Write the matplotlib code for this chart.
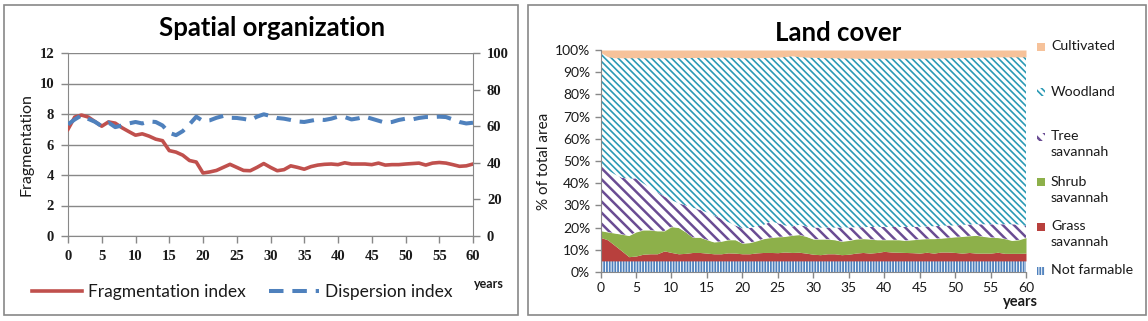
import matplotlib

matplotlib.use("Agg")

import matplotlib.pyplot as plt
import numpy as np
from matplotlib.font_manager import FontProperties
from matplotlib.lines import Line2D
from matplotlib.patches import Rectangle

plt.rcParams["font.family"] = ["Lato", "DejaVu Sans"]
plt.rcParams["hatch.linewidth"] = 1.3

years = np.arange(0, 61)

# Spatial organization indices
fragmentation = [
    7.0, 7.8, 7.93, 7.8, 7.5, 7.2, 7.48, 7.4, 7.1, 6.85,
    6.61, 6.7, 6.55, 6.35, 6.25, 5.6, 5.5, 5.3, 4.95, 4.85,
    4.13, 4.2, 4.3, 4.5, 4.7, 4.5, 4.3, 4.28, 4.5, 4.75,
    4.5, 4.28, 4.35, 4.6, 4.5, 4.38, 4.55, 4.65, 4.7, 4.72,
    4.68, 4.8, 4.72, 4.72, 4.72, 4.68, 4.78, 4.65, 4.68, 4.68,
    4.72, 4.75, 4.78, 4.65, 4.78, 4.82, 4.78, 4.68, 4.57, 4.6,
    4.72,
]
dispersion = [
    61.0, 63.7, 65.9, 64.0, 62.4, 60.0, 62.0, 59.5, 60.4, 61.5,
    62.3, 61.5, 62.6, 62.3, 60.4, 56.4, 55.1, 57.3, 61.0, 65.2,
    62.8, 63.2, 64.6, 65.6, 64.6, 64.5, 64.0, 63.3, 65.2, 66.5,
    65.6, 64.5, 64.1, 63.4, 62.6, 62.3, 63.0, 63.7, 63.4, 64.1,
    65.2, 65.0, 63.7, 64.3, 65.2, 64.1, 63.0, 61.9, 62.3, 63.4,
    64.1, 63.7, 64.5, 65.0, 65.0, 65.2, 65.0, 63.7, 62.3, 61.5,
    61.9,
]

# Land cover shares, % of total area
not_farmable = [5.0] * 61
grass = [
    10.6, 9.5, 7.0, 4.5, 1.9, 2.2, 3.0, 3.2, 3.2, 4.5,
    3.8, 3.2, 3.4, 3.8, 3.8, 3.5, 3.2, 3.2, 3.6, 3.5,
    3.2, 3.2, 3.6, 3.8, 3.8, 3.7, 4.0, 3.8, 3.9, 3.5,
    3.0, 2.8, 3.2, 3.2, 2.8, 3.0, 3.5, 3.8, 3.5, 3.8,
    4.3, 4.0, 3.9, 3.8, 3.7, 3.5, 3.9, 3.5, 4.0, 4.0,
    3.8, 3.5, 3.8, 3.5, 3.5, 3.5, 3.9, 3.4, 3.4, 3.4,
    3.5,
]
shrub = [
    3.0, 3.5, 5.5, 7.5, 9.5, 10.8, 10.9, 10.7, 10.3, 9.0,
    11.6, 11.8, 9.6, 6.8, 6.8, 6.0, 5.3, 5.6, 5.9, 6.0,
    4.7, 5.0, 5.4, 6.2, 6.7, 7.1, 7.0, 7.7, 7.9, 7.5,
    6.8, 7.0, 6.6, 6.3, 6.0, 6.2, 6.3, 6.2, 6.3, 5.7,
    5.2, 5.5, 5.6, 5.4, 5.8, 6.3, 6.1, 6.5, 6.2, 6.5,
    7.0, 7.5, 7.5, 8.0, 7.5, 7.1, 6.6, 6.6, 5.8, 6.1,
    7.0,
]
tree = [
    29.6, 28.0, 26.5, 25.5, 25.6, 24.2, 21.1, 19.1, 17.5, 15.5,
    12.0, 11.0, 12.0, 13.4, 12.4, 12.4, 12.0, 10.2, 8.0, 6.5,
    6.8, 6.6, 6.5, 6.2, 7.2, 6.2, 5.0, 4.0, 4.4, 4.5,
    5.2, 5.2, 5.2, 5.5, 6.2, 5.8, 5.4, 5.2, 5.5, 5.8,
    5.8, 5.8, 5.8, 6.1, 5.8, 5.6, 5.5, 5.6, 5.6, 5.4,
    5.2, 5.2, 5.1, 5.0, 5.5, 5.9, 6.0, 6.5, 7.3, 6.9,
    5.3,
]
woodland = [
    50.8, 51.0, 52.5, 54.0, 54.5, 54.3, 56.5, 58.5, 60.5, 62.5,
    64.1, 65.5, 66.6, 67.6, 68.7, 69.8, 71.2, 72.8, 74.3, 75.6,
    76.8, 76.7, 76.0, 75.4, 74.0, 74.8, 76.0, 76.9, 75.8, 76.3,
    76.7, 76.6, 76.5, 76.5, 76.4, 76.4, 76.1, 76.1, 76.0, 76.0,
    76.0, 76.0, 76.0, 76.0, 76.0, 75.9, 75.8, 75.8, 75.6, 75.6,
    75.5, 75.4, 75.3, 75.2, 75.3, 75.3, 75.4, 75.4, 75.4, 75.5,
    76.1,
]
cultivated = [
    1.0, 3.0, 3.5, 3.5, 3.5, 3.5, 3.5, 3.5, 3.5, 3.5,
    3.5, 3.5, 3.4, 3.4, 3.3, 3.3, 3.3, 3.2, 3.2, 3.4,
    3.5, 3.5, 3.5, 3.4, 3.3, 3.2, 3.0, 2.6, 3.0, 3.2,
    3.3, 3.4, 3.5, 3.5, 3.6, 3.6, 3.7, 3.7, 3.7, 3.7,
    3.7, 3.7, 3.7, 3.7, 3.7, 3.7, 3.7, 3.6, 3.6, 3.5,
    3.5, 3.4, 3.3, 3.3, 3.2, 3.2, 3.1, 3.1, 3.1, 3.1,
    3.1,
]

cover_labels = ["Not farmable", "Grass\nsavannah", "Shrub\nsavannah",
                "Tree\nsavannah", "Woodland", "Cultivated"]
cover_series = [not_farmable, grass, shrub, tree, woodland, cultivated]

RED = "#C0504D"
BLUE = "#4F81BD"
GREY = "#888888"
INK = "#1a1a1a"
# (face, edge/hatch colour, hatch, hatch line width)
cover_styles = [
    ("white", "#4F81BD", "||||||", 1.3),
    ("#B8403D", "#B8403D", None, 1.3),
    ("#8DB04A", "#8DB04A", None, 1.3),
    ("white", "#6A4C93", "\\\\\\", 1.8),
    ("white", "#2B9AB5", "\\\\\\\\\\", 1.2),
    ("#F6C29A", "#F6C29A", None, 1.3),
]

W, H = 1148, 321
fig = plt.figure(figsize=(W / 100, H / 100), dpi=100)


def px_box(x0, y0, x1, y1):
    """Figure-fraction rect from pixel corners (y measured from top)."""
    return [x0 / W, 1 - y1 / H, (x1 - x0) / W, (y1 - y0) / H]


# panel frames
for x0, x1 in [(3.5, 517.5), (527.5, 1145.5)]:
    fig.add_artist(Rectangle((x0 / W, 1 - 315 / H), (x1 - x0) / W, 310 / H,
                             transform=fig.transFigure, fill=False,
                             edgecolor=GREY, linewidth=1.2))

# ---- Spatial organization ----
ax = fig.add_axes(px_box(68, 53, 473, 236))
ax2 = ax.twinx()
ax.set_xlim(0, 60)
ax.set_ylim(0, 12)
ax2.set_ylim(0, 100)
ax.set_yticks(np.arange(0, 13, 2))
ax2.set_yticks(np.arange(0, 101, 20))
ax.set_xticks(np.arange(0, 61, 5))
ax.grid(axis="y", color=GREY, linewidth=1)
ax.set_axisbelow(True)
for a in (ax, ax2):
    a.spines["top"].set_visible(False)
    for side in ("left", "right", "bottom"):
        a.spines[side].set_color(GREY)
    a.tick_params(colors=GREY, length=5, width=1)
ax.spines["right"].set_visible(False)
ax2.spines["left"].set_visible(False)
ax2.spines["bottom"].set_visible(False)

serif = FontProperties(family="Liberation Serif", weight="bold", size=10.5)
for lab in ax.get_xticklabels() + ax.get_yticklabels() + ax2.get_yticklabels():
    lab.set_fontproperties(serif)
    lab.set_color(INK)
ax.tick_params(axis="x", pad=5)
ax.tick_params(axis="y", pad=5)
ax2.tick_params(axis="y", pad=5)

ax.plot(years, fragmentation, color=RED, linewidth=2.6, zorder=3)
ax2.plot(years, dispersion, color=BLUE, linewidth=2.9, dashes=(3.6, 2.2),
         zorder=3)

ax.set_ylabel("Fragmentation", fontsize=11.5, color=INK, labelpad=4)
fig.text(272 / W, 1 - 28 / H, "Spatial organization", ha="center", va="center",
         fontsize=18.5, fontweight="bold")
fig.text(489 / W, 1 - 284 / H, "years", ha="center", va="center",
         fontsize=9, fontweight="bold", color=INK)

handles = [Line2D([], [], color=RED, linewidth=2.6),
           Line2D([], [], color=BLUE, linewidth=2.9, dashes=(3.6, 2.2))]
fig.legend(handles, ["Fragmentation index", "Dispersion index"],
           loc="center left", bbox_to_anchor=(32 / W, 1 - 292 / H), ncol=2,
           frameon=False, fontsize=12.5, handlelength=2.9, handletextpad=0.35,
           columnspacing=1.3, borderpad=0, borderaxespad=0, labelcolor=INK)

# ---- Land cover ----
bx = fig.add_axes(px_box(600.5, 50, 1026, 272))
base = np.zeros(len(years))
for values, (face, edge, hatch, hlw) in zip(cover_series, cover_styles):
    top = base + np.asarray(values)
    with plt.rc_context({"hatch.linewidth": hlw}):
        bx.fill_between(years, base, top, facecolor=face, edgecolor=edge,
                        hatch=hatch, linewidth=0)
    base = top
bx.set_xlim(0, 60)
bx.set_ylim(0, 100)
bx.set_xticks(np.arange(0, 61, 5))
bx.set_yticks(np.arange(0, 101, 10))
bx.set_yticklabels([f"{v}%" for v in range(0, 101, 10)])
for side in ("top", "right"):
    bx.spines[side].set_visible(False)
for side in ("left", "bottom"):
    bx.spines[side].set_color(GREY)
bx.tick_params(colors=GREY, length=4, width=1, labelcolor=INK, labelsize=10)
bx.set_ylabel("% of total area", fontsize=11, color=INK, labelpad=3)
fig.text(838 / W, 1 - 33 / H, "Land cover", ha="center", va="center",
         fontsize=18.5, fontweight="bold")
fig.text(1020 / W, 1 - 302 / H, "years", ha="center", va="center",
         fontsize=10.5, fontweight="bold", color=INK)

# legend, top entry first
legend_rows = [47, 92, 137, 182, 227, 271]
for row, label, (face, edge, hatch, hlw) in zip(
        legend_rows, cover_labels[::-1], cover_styles[::-1]):
    with plt.rc_context({"hatch.linewidth": hlw}):
        fig.add_artist(Rectangle((1037 / W, 1 - (row + 4) / H), 8 / W, 8 / H,
                                 transform=fig.transFigure, facecolor=face,
                                 edgecolor=edge, hatch=hatch, linewidth=0))
    fig.text(1051 / W, 1 - (row - 6.5) / H, label, ha="left", va="top",
             fontsize=10.2, color=INK, linespacing=1.4)

fig.savefig("out.png", dpi=100)
